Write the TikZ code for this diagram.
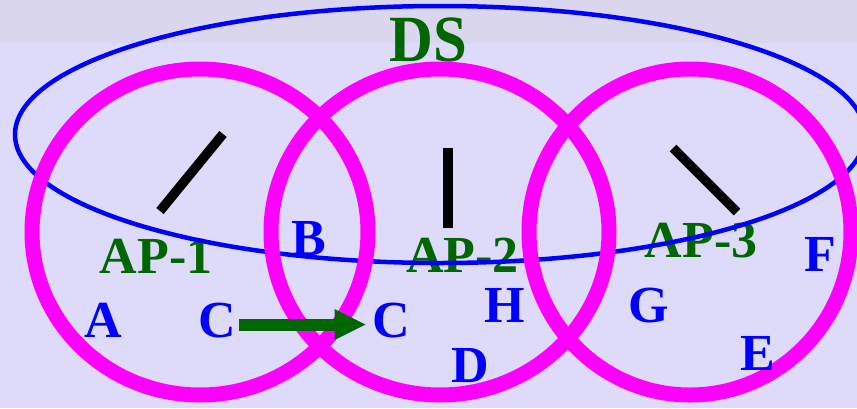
\documentclass[tikz,border=0pt]{standalone}
\usepackage{fontspec}
\setmainfont{Liberation Serif}
\usetikzlibrary{arrows.meta}
\definecolor{bgmain}{RGB}{222,218,250}
\definecolor{bgtop}{RGB}{217,214,238}
\definecolor{dgreen}{RGB}{0,102,0}
\definecolor{cellpink}{RGB}{255,0,255}
\definecolor{dsblue}{RGB}{0,0,255}
\begin{document}
\begin{tikzpicture}[x=1pt,y=-1pt,
  lbl/.style={text=dsblue, font=\bfseries\fontsize{52}{60}\selectfont, inner sep=2pt, anchor=base},
  aplbl/.style={text=dgreen, font=\bfseries\fontsize{52}{60}\selectfont, inner sep=0pt, anchor=base},
  dslbl/.style={text=dgreen, font=\bfseries\fontsize{66}{70}\selectfont, inner sep=0pt, anchor=base, xscale=0.92},
  cell/.style={draw=cellpink, line width=15pt},
  dsys/.style={draw=dsblue, line width=4.5pt},
  ant/.style={draw=black, line width=9.5pt},
  move/.style={draw=dgreen, line width=12pt, -{Triangle[length=31pt,width=31pt,line width=0pt]}}]

\useasboundingbox (0,0) rectangle (857,408);
\fill[bgmain] (0,0) rectangle (857,408);
\fill[bgtop] (0,0) rectangle (857,43);

% access point labels (under the DS line)
\node[aplbl] (ap1) at (156,273) {AP-1};
\node[aplbl] (ap2) at (462.5,272) {AP-2};
\node[aplbl] (ap3) at (701,257) {AP-3};

% distribution system
\draw[dsys] (440,134.5) ellipse [x radius=425pt, y radius=128.5pt];
\node[dslbl] (ds) at (428,61) {DS};

% BSS cells
\draw[cell] (200,232) ellipse [x radius=168pt, y radius=163pt];
\draw[cell] (440,232) ellipse [x radius=169pt, y radius=163pt];
\draw[cell] (690,232) ellipse [x radius=161pt, y radius=163pt];

% antennas
\coordinate (a1b) at (160,211);
\coordinate (a1t) at (223,134);
\coordinate (a2b) at (448,228);
\coordinate (a2t) at (448,148);
\coordinate (a3b) at (737,212);
\coordinate (a3t) at (673,148);
\draw[ant] (a1b) -- (a1t);
\draw[ant] (a2b) -- (a2t);
\draw[ant] (a3b) -- (a3t);

% stations
\node[lbl] (A) at (103.5,337) {A};
\node[lbl] (cl) at (217.5,337) {C};
\node[lbl] (B) at (309,255) {B};
\node[lbl] (cr) at (391.5,337) {C};
\node[lbl] (H) at (504.5,322) {H};
\node[lbl] (D) at (470.5,382) {D};
\node[lbl] (G) at (648.5,322) {G};
\node[lbl] (F) at (820,271) {F};
\node[lbl] (E) at (757.5,370) {E};

% movement of C
\draw[move] ([xshift=1pt,yshift=-4.5pt]cl.east) -- ([xshift=-5pt,yshift=-4.5pt]cr.west);
\end{tikzpicture}
\end{document}
